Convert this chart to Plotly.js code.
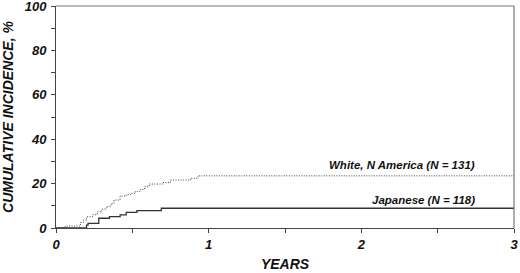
<!DOCTYPE html>
<html>
<head>
<meta charset="utf-8">
<script src="https://cdn.plot.ly/plotly-3.0.1.min.js"></script>
<style>html,body{margin:0;padding:0;background:#fff;}#chart{width:520px;height:273px;}</style>
</head>
<body>
<div id="chart"></div>
<script>
// Data (step curves: year at which each step occurs, cumulative incidence %)
var whiteYears = [0, 0.06, 0.16, 0.18, 0.20, 0.24, 0.27, 0.30, 0.33, 0.36, 0.38, 0.42, 0.46, 0.49, 0.52, 0.55, 0.58, 0.61, 0.70, 0.75, 0.88, 0.93, 3.0];
var whitePct   = [0, 0.9, 2.5, 3.6, 5.1, 6.0, 7.3, 8.5, 9.6, 11.0, 12.6, 14.4, 15.0, 15.6, 16.5, 17.4, 18.6, 19.8, 20.5, 21.6, 22.4, 23.5, 23.5];
var japYears   = [0, 0.20, 0.21, 0.28, 0.35, 0.42, 0.46, 0.53, 0.69, 3.0];
var japPct     = [0, 1.3, 2.1, 4.4, 5.1, 5.9, 7.0, 7.8, 8.9, 8.9];
var seriesNames = ["White, N America (N = 131)", "Japanese (N = 118)"];
var labelPos = {x: [2.76, 2.76], y: [28.4, 12.6]};
var xTicks = [0, 1, 2, 3];
var yTicks = [0, 20, 40, 60, 80, 100];

var FONT = "Liberation Sans, Arial, sans-serif";
var traces = [
  {x: whiteYears, y: whitePct, mode: "lines", line: {shape: "hv", dash: "1px,1.5px", color: "#444", width: 1}, name: seriesNames[0], hoverinfo: "skip"},
  {x: japYears, y: japPct, mode: "lines", line: {shape: "hv", color: "#333", width: 1.3}, name: seriesNames[1], hoverinfo: "skip"}
];
var tf = {family: FONT, size: 13, color: "#111", weight: "bold", style: "italic"};
var layout = {
  width: 520, height: 273,
  margin: {l: 56, r: 6, t: 6, b: 45, pad: 0},
  paper_bgcolor: "#fff", plot_bgcolor: "#fff",
  showlegend: false,
  xaxis: {
    range: [0, 3], tickvals: xTicks, ticktext: xTicks.map(String),
    ticks: "outside", ticklen: 4, tickcolor: "#444", tickwidth: 1,
    minor: {dtick: 0.5, ticks: "outside", ticklen: 4, tickcolor: "#444", showgrid: false},
    showline: true, linecolor: "#444", linewidth: 1, showgrid: false, zeroline: false,
    tickfont: tf, ticklabeloverflow: "allow",
    title: {text: "YEARS", font: {family: FONT, size: 14, color: "#111", weight: "bold", style: "italic"}, standoff: 8}
  },
  yaxis: {
    range: [0, 100], tickvals: yTicks, ticktext: yTicks.map(String),
    ticks: "outside", ticklen: 4, tickcolor: "#444", tickwidth: 1,
    minor: {dtick: 10, ticks: "outside", ticklen: 4, tickcolor: "#444", showgrid: false},
    showline: true, linecolor: "#444", linewidth: 1, showgrid: false, zeroline: false,
    tickfont: tf, ticklabelstandoff: 2, ticklabeloverflow: "allow",
    title: {text: "CUMULATIVE INCIDENCE, %", font: {family: FONT, size: 14, color: "#111", weight: "bold", style: "italic"}, standoff: 13}
  },
  shapes: [
    {type: "line", xref: "paper", yref: "paper", x0: 0, x1: 1, y0: 1, y1: 1, line: {color: "#777", width: 1.2}},
    {type: "line", xref: "paper", yref: "paper", x0: 1, x1: 1, y0: 0, y1: 1, line: {color: "#777", width: 1.2}}
  ],
  annotations: seriesNames.map(function (t, i) {
    return {x: labelPos.x[i], y: labelPos.y[i], xref: "x", yref: "y", text: t, showarrow: false,
      xanchor: "right", yanchor: "middle",
      font: {family: FONT, size: 11.5, color: "#111", weight: "bold", style: "italic"}};
  })
};
Plotly.newPlot("chart", traces, layout, {displayModeBar: false, staticPlot: true});
</script>
</body>
</html>
